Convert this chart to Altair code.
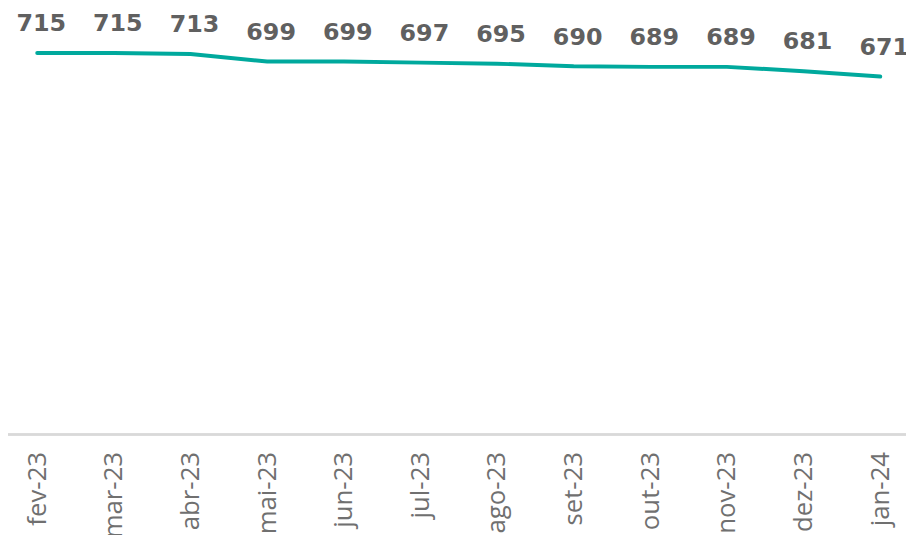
import altair as alt
import pandas as pd

months = ["fev-23", "mar-23", "abr-23", "mai-23", "jun-23", "jul-23",
          "ago-23", "set-23", "out-23", "nov-23", "dez-23", "jan-24"]
values = [715, 715, 713, 699, 699, 697, 695, 690, 689, 689, 681, 671]

df = pd.DataFrame({"mes": months, "valor": values})

x = alt.X("mes:N", sort=months, title=None,
          scale=alt.Scale(type="point", range=[29.5, 880], padding=0),
          axis=alt.Axis(labelAngle=270, labelFont="Open Sans", labelFontSize=26,
                        labelColor="#707070", labelPadding=17, ticks=False,
                        domain=False, grid=False,
                        labelAlign="right", labelBaseline="middle"))
y = alt.Y("valor:Q", scale=alt.Scale(domain=[0, 795], nice=False, zero=True),
          axis=None)

base = alt.Chart(df).encode(x=x, y=y)

baseline = alt.Chart(df).mark_rule(color="#d9d9d9", strokeWidth=1.5).encode(
    x=alt.value(0), x2=alt.value(906), y=alt.value(428))

line = base.mark_line(color="#00A99D", strokeWidth=4, strokeCap="round")
labels = base.mark_text(font="DejaVu Sans", fontWeight="bold", fontSize=24,
                        color="#606060", dy=-22, dx=4, baseline="alphabetic",
                        align="center").encode(text="valor:Q")

chart = (baseline + line + labels).properties(
    width=906, height=428,
    autosize=alt.AutoSizeParams(type="none"),
    padding={"left": 0, "right": 0, "top": 0, "bottom": 99},
).configure_view(stroke=None)

chart.save("out.html", embed_options={"renderer": "svg", "actions": False})
